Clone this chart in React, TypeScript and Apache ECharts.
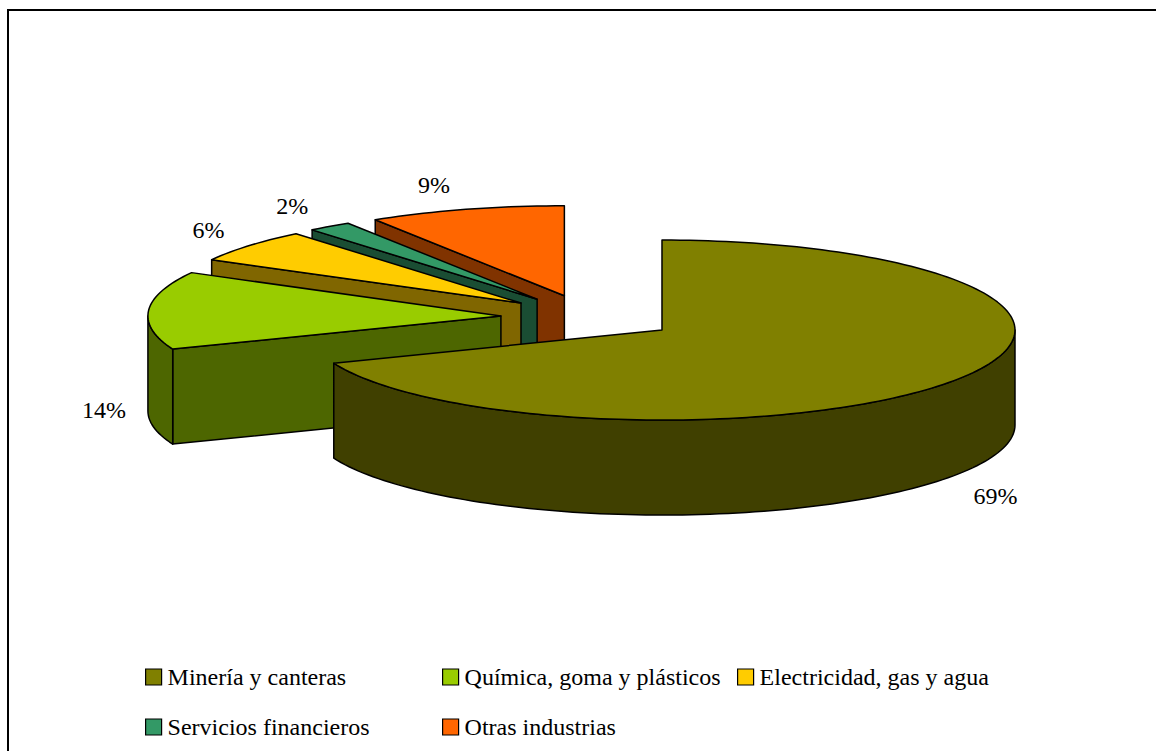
import React, { useEffect, useRef } from "react";
import * as echarts from "echarts";

const categories = [
  "Minería y canteras",
  "Química, goma y plásticos",
  "Electricidad, gas y agua",
  "Servicios financieros",
  "Otras industrias",
];
const values = [69, 14, 6, 2, 9];
const topColors = ["#808000", "#99CC00", "#FFCC00", "#339966", "#FF6600"];
const sideColors = ["#404000", "#4D6600", "#806600", "#1A4D33", "#803300"];

// layout of the 3D pie
const CX = 589;
const CY = 317.4;
const RX = 353;
const RY = 90;
const DEPTH = 95;
const EXPLODE = 0.25;
const FONT = "Times New Roman, Liberation Serif, DejaVu Serif, serif";
const FONT_SIZE = 24;

const total = values.reduce((a, b) => a + b, 0);
const startAngles: number[] = [];
const endAngles: number[] = [];
{
  let acc = 0;
  values.forEach((v) => {
    startAngles.push((acc / total) * 360);
    acc += v;
    endAngles.push((acc / total) * 360);
  });
}
const rad = (d: number) => (d * Math.PI) / 180;
const tips = values.map((_, i) => {
  const mid = rad((startAngles[i] + endAngles[i]) / 2);
  return {
    x: CX + Math.sin(mid) * RX * EXPLODE,
    y: CY - Math.cos(mid) * RY * EXPLODE,
  };
});
// back-to-front order
const order = values.map((_, i) => i).sort((a, b) => tips[a].y - tips[b].y);
const rank: number[] = [];
order.forEach((idx, r) => (rank[idx] = r));

function pt(tip: { x: number; y: number }, deg: number, h: number) {
  const t = rad(deg);
  return [tip.x + RX * Math.sin(t), tip.y - RY * Math.cos(t) + h];
}
function arc(tip: { x: number; y: number }, a: number, b: number, h: number) {
  const pts: number[][] = [];
  const n = Math.max(2, Math.ceil(Math.abs(b - a) / 1.5));
  for (let k = 0; k <= n; k++) pts.push(pt(tip, a + ((b - a) * k) / n, h));
  return pts;
}

function makeRender(i: number) {
  return (params: any, api: any) => {
    const v = api.value(0);
    const a0 = startAngles[i];
    const a1 = endAngles[i];
    const tip = tips[i];
    const base = rank[i] * 10;
    const stroke = { stroke: "#000", lineWidth: 1.5, lineJoin: "round" };
    const children: any[] = [];
    const face = (deg: number) => ({
      type: "polygon",
      z2: base + 1,
      shape: {
        points: [[tip.x, tip.y], pt(tip, deg, 0), pt(tip, deg, DEPTH), [tip.x, tip.y + DEPTH]],
      },
      style: { fill: sideColors[i], ...stroke },
    });
    if (Math.sin(rad(a0)) < -1e-6) children.push(face(a0));
    if (Math.sin(rad(a1)) > 1e-6) children.push(face(a1));
    const wa = Math.max(a0, 90);
    const wb = Math.min(a1, 270);
    if (wb > wa) {
      const top = arc(tip, wa, wb, 0);
      const bottom = arc(tip, wb, wa, DEPTH);
      children.push({
        type: "polygon",
        z2: base + 2,
        shape: { points: top.concat(bottom) },
        style: { fill: sideColors[i], ...stroke },
      });
    }
    children.push({
      type: "polygon",
      z2: base + 3,
      shape: { points: [[tip.x, tip.y]].concat(arc(tip, a0, a1, 0)) },
      style: { fill: topColors[i], ...stroke },
    });
    const mid = rad((a0 + a1) / 2);
    const s = Math.sin(mid);
    const c = Math.cos(mid);
    const lx = tip.x + s * RX * 1.05 + Math.sign(s) * 27;
    const ly = tip.y - c * RY * 1.28 + (c < 0.3 ? DEPTH + 6 : 0);
    children.push({
      type: "text",
      z2: 1000,
      style: {
        text: Math.round((v / total) * 100) + "%",
        x: lx,
        y: ly,
        fill: "#000",
        font: FONT_SIZE + "px " + FONT,
        align: "center",
        verticalAlign: "middle",
      },
    });
    return { type: "group", children };
  };
}

const legendPos = [
  [145, 677],
  [442, 677],
  [737, 677],
  [145, 727],
  [442, 727],
];

export default function App() {
  const ref = useRef<HTMLDivElement>(null);
  useEffect(() => {
    if (!ref.current) return;
    const chart = echarts.init(ref.current, null, { renderer: "svg" });
    chart.setOption({
      animation: false,
      backgroundColor: "#fff",
      textStyle: { fontFamily: FONT },
      graphic: [
        {
          type: "rect",
          shape: { x: 8, y: 10, width: 1300, height: 900 },
          style: { fill: "none", stroke: "#000", lineWidth: 2 },
          silent: true,
        },
      ],
      legend: categories.map((name, i) => ({
        data: [name],
        left: legendPos[i][0],
        top: legendPos[i][1] - 12,
        padding: 0,
        itemWidth: 16,
        itemHeight: 16,
        icon: "rect",
        selectedMode: false,
        itemStyle: { borderColor: "#000", borderWidth: 1.2 },
        textStyle: { fontFamily: FONT, fontSize: FONT_SIZE, color: "#000", padding: [0, 0, 0, 1] },
      })),
      series: categories.map((name, i) => ({
        type: "custom",
        name,
        coordinateSystem: "none",
        silent: true,
        itemStyle: { color: topColors[i] },
        renderItem: makeRender(i),
        data: [values[i]],
      })),
    });
    return () => chart.dispose();
  }, []);
  return (
    <div
      ref={ref}
      style={{ position: "fixed", left: 0, top: 0, width: 1156, height: 751 }}
    />
  );
}
